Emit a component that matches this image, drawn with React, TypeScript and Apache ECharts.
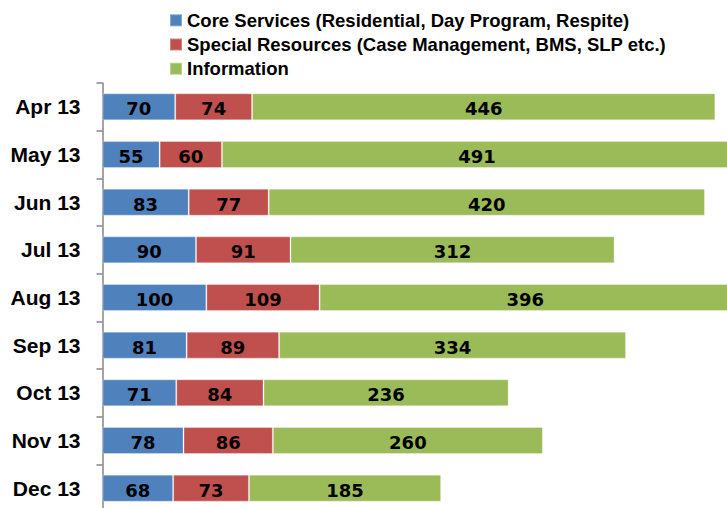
import React, { useEffect, useRef } from "react";
import * as echarts from "echarts";

const categories = ["Apr 13", "May 13", "Jun 13", "Jul 13", "Aug 13", "Sep 13", "Oct 13", "Nov 13", "Dec 13"];
const coreServices = [70, 55, 83, 90, 100, 81, 71, 78, 68];
const specialResources = [74, 60, 77, 91, 109, 89, 84, 86, 73];
const information = [446, 491, 420, 312, 396, 334, 236, 260, 185];

const seriesNames = [
  "Core Services (Residential, Day Program, Respite)",
  "Special Resources (Case Management, BMS, SLP etc.)",
  "Information",
];
const colors = ["#4F81BD", "#C0504D", "#9BBB59"];

const FONT = "'Liberation Sans', Arial, sans-serif";
const NUM_FONT = "'DejaVu Sans', sans-serif";

export default function App() {
  const ref = useRef<HTMLDivElement>(null);
  useEffect(() => {
    if (!ref.current) return;
    const chart = echarts.init(ref.current, null, { renderer: "svg" });
    const mk = (name: string, data: number[], color: string) => ({
      name,
      type: "bar",
      stack: "total",
      data,
      barWidth: 27,
      itemStyle: { color, borderColor: "rgba(255,255,255,0.3)", borderWidth: 1 },
      label: {
        show: true,
        position: "inside",
        offset: [0, 2],
        color: "#000",
        fontFamily: NUM_FONT,
        fontWeight: "bold",
        fontSize: 18,
      },
    });
    chart.setOption({
      animation: false,
      textStyle: { fontFamily: FONT },
      legend: {
        orient: "vertical",
        left: 169,
        top: 10.8,
        padding: 0,
        itemWidth: 12,
        itemHeight: 12,
        itemGap: 5.2,
        icon: "rect",
        textStyle: {
          fontFamily: FONT,
          fontWeight: "bold",
          fontSize: 18.5,
          lineHeight: 18,
          color: "#000",
        },
        data: seriesNames,
      },
      grid: { left: 102.5, right: 13.5, top: 83, bottom: 0, containLabel: false },
      xAxis: {
        type: "value",
        min: 0,
        max: 620,
        show: false,
      },
      yAxis: {
        type: "category",
        inverse: true,
        data: categories,
        axisLine: { show: true, lineStyle: { color: "#868686", width: 1.5 } },
        axisTick: { show: true, length: 6, lineStyle: { color: "#868686", width: 1.5 } },
        axisLabel: { margin: 22, color: "#000", fontFamily: FONT, fontWeight: "bold", fontSize: 21 },
      },
      series: [
        mk(seriesNames[0], coreServices, colors[0]),
        mk(seriesNames[1], specialResources, colors[1]),
        mk(seriesNames[2], information, colors[2]),
      ],
    });
    return () => chart.dispose();
  }, []);
  return (
    <div
      style={{ position: "absolute", left: 0, top: 0, width: 727, height: 508, overflow: "hidden", background: "#fff" }}
    >
      <div ref={ref} style={{ width: 760, height: 512 }} />
    </div>
  );
}
